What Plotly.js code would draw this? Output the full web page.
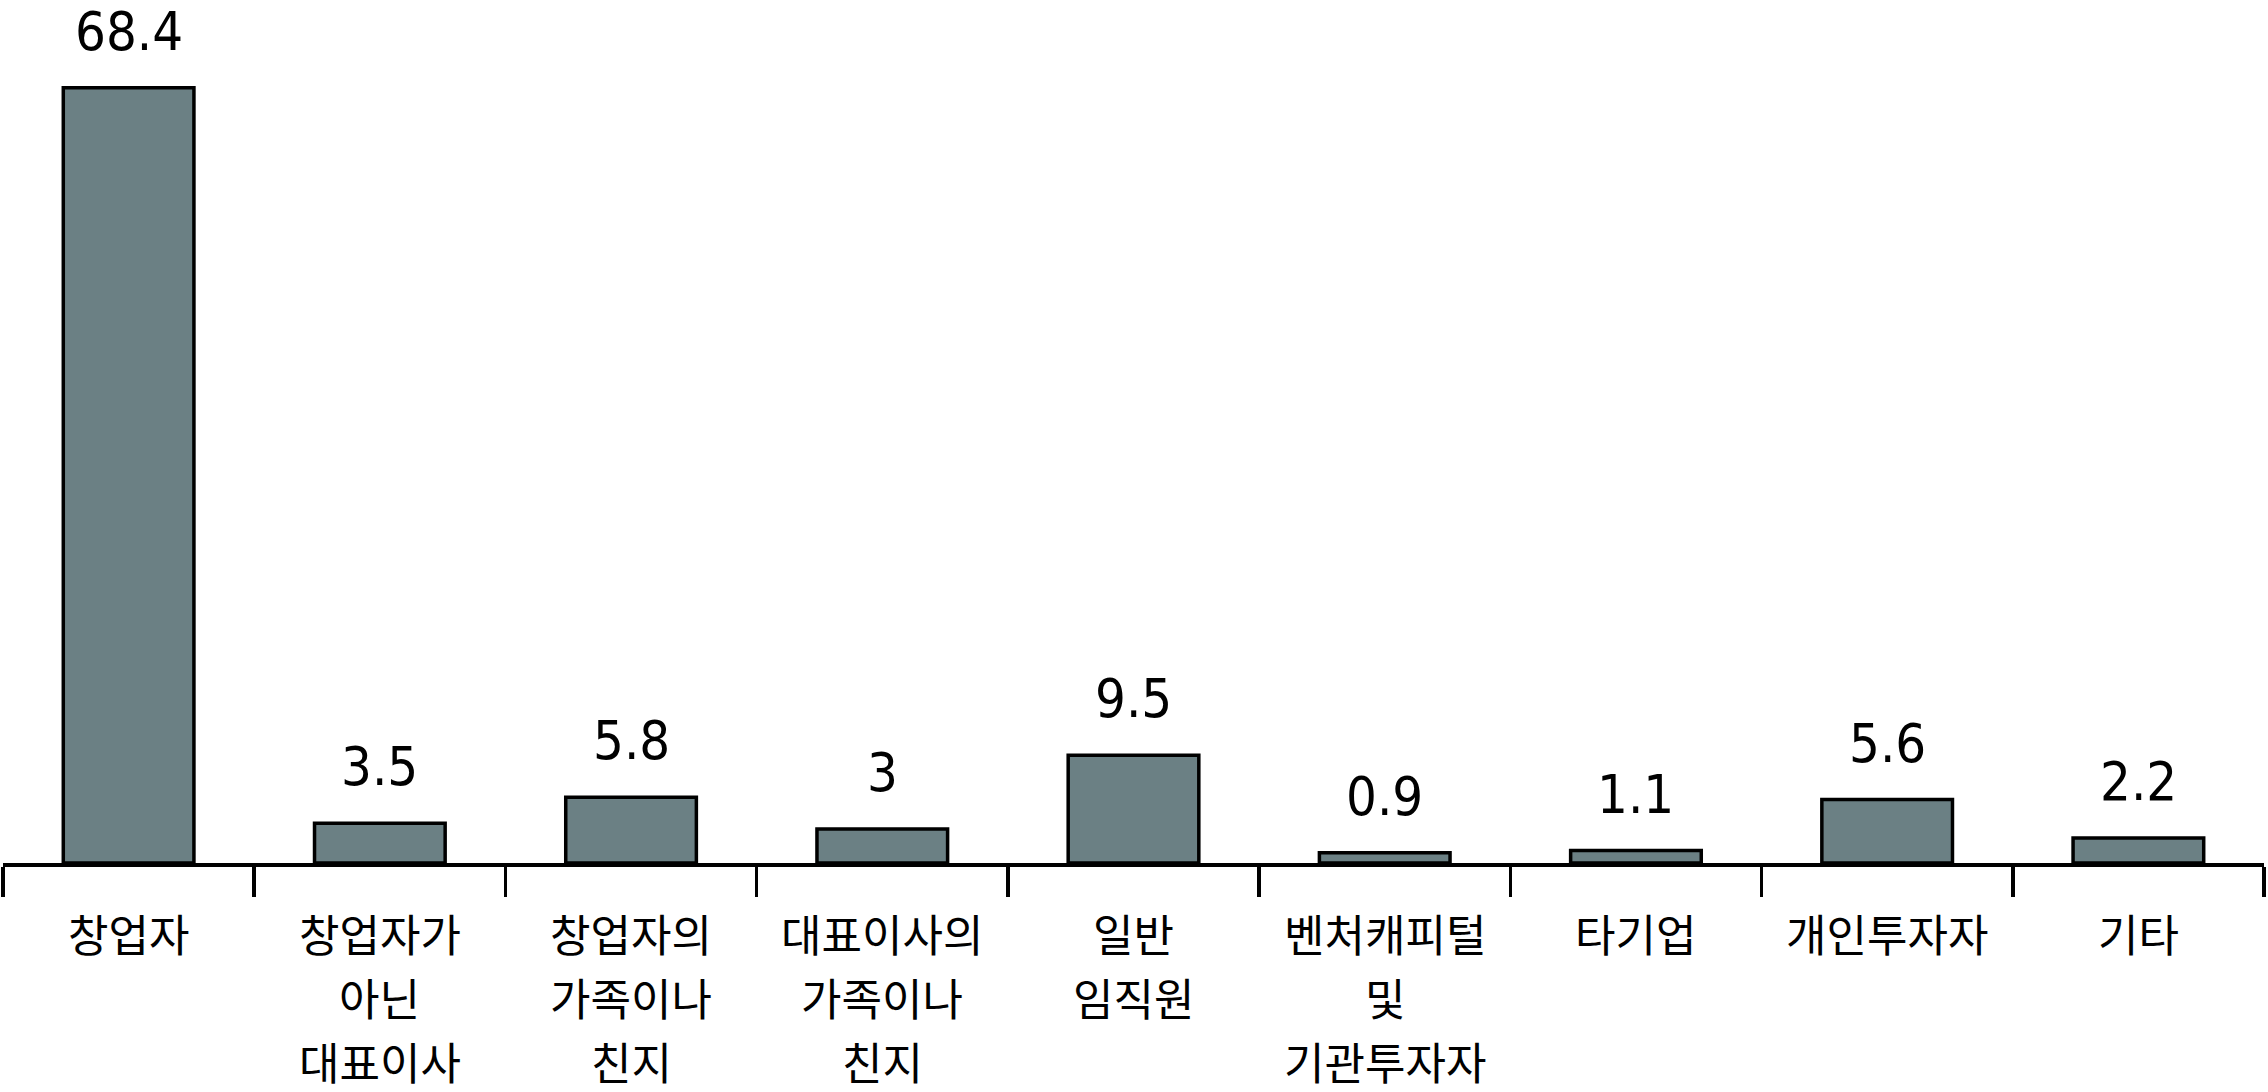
<!DOCTYPE html>
<html>
<head>
<meta charset="utf-8">
<script src="https://cdn.plot.ly/plotly-3.0.1.min.js"></script>
<style>html,body{margin:0;padding:0;background:#fff;}#chart{width:2268px;height:1092px;}</style>
</head>
<body>
<div id="chart"></div>
<script>
const categories = ["창업자", "창업자가<br>아닌<br>대표이사", "창업자의<br>가족이나<br>친지", "대표이사의<br>가족이나<br>친지", "일반<br>임직원", "벤처캐피털<br>및<br>기관투자자", "타기업", "개인투자자", "기타"];
const values = [68.4, 3.5, 5.8, 3, 9.5, 0.9, 1.1, 5.6, 2.2];
const valueLabels = ["68.4", "3.5", "5.8", "3", "9.5", "0.9", "1.1", "5.6", "2.2"];

const numFont = {family: "'DejaVu Sans Condensed', 'Noto Sans CJK KR', sans-serif", size: 54, color: "#000"};
const catFont = {family: "'Noto Sans CJK KR', sans-serif", size: 44, color: "#000"};
const linePitch = 64;
const firstLineOffset = 36;

const xIdx = categories.map((c, i) => i);

const trace = {
  type: "bar",
  x: xIdx,
  y: values,
  marker: {color: "#6b8084", line: {color: "#000", width: 3.5}},
  hoverinfo: "none"
};

const annotations = values.map((v, i) => ({
  x: i, y: v, xref: "x", yref: "y",
  text: valueLabels[i], showarrow: false,
  yanchor: "bottom", yshift: 23,
  font: numFont
}));

categories.forEach((c, i) => {
  c.split("<br>").forEach((line, k) => {
    annotations.push({
      x: i, xref: "x", y: 0, yref: "paper",
      text: line, showarrow: false,
      yanchor: "top", xanchor: "center",
      yshift: -(firstLineOffset + k * linePitch),
      font: catFont
    });
  });
});

const layout = {
  width: 2268, height: 1092,
  margin: {l: 3, r: 4, t: 47, b: 229},
  paper_bgcolor: "#fff", plot_bgcolor: "#fff",
  showlegend: false,
  bargap: 0.48,
  xaxis: {
    type: "category",
    tickmode: "array",
    tickvals: xIdx,
    ticktext: categories,
    showticklabels: false,
    tickson: "boundaries",
    ticks: "outside", ticklen: 30, tickwidth: 3.5, tickcolor: "#000",
    showline: true, linecolor: "#000", linewidth: 4,
    showgrid: false, zeroline: false,
    range: [-0.5, 8.5]
  },
  yaxis: {
    range: [0, 72],
    visible: false,
    showgrid: false, zeroline: false
  },
  annotations: annotations
};

Plotly.newPlot("chart", [trace], layout, {displayModeBar: false, staticPlot: true});
</script>
</body>
</html>
